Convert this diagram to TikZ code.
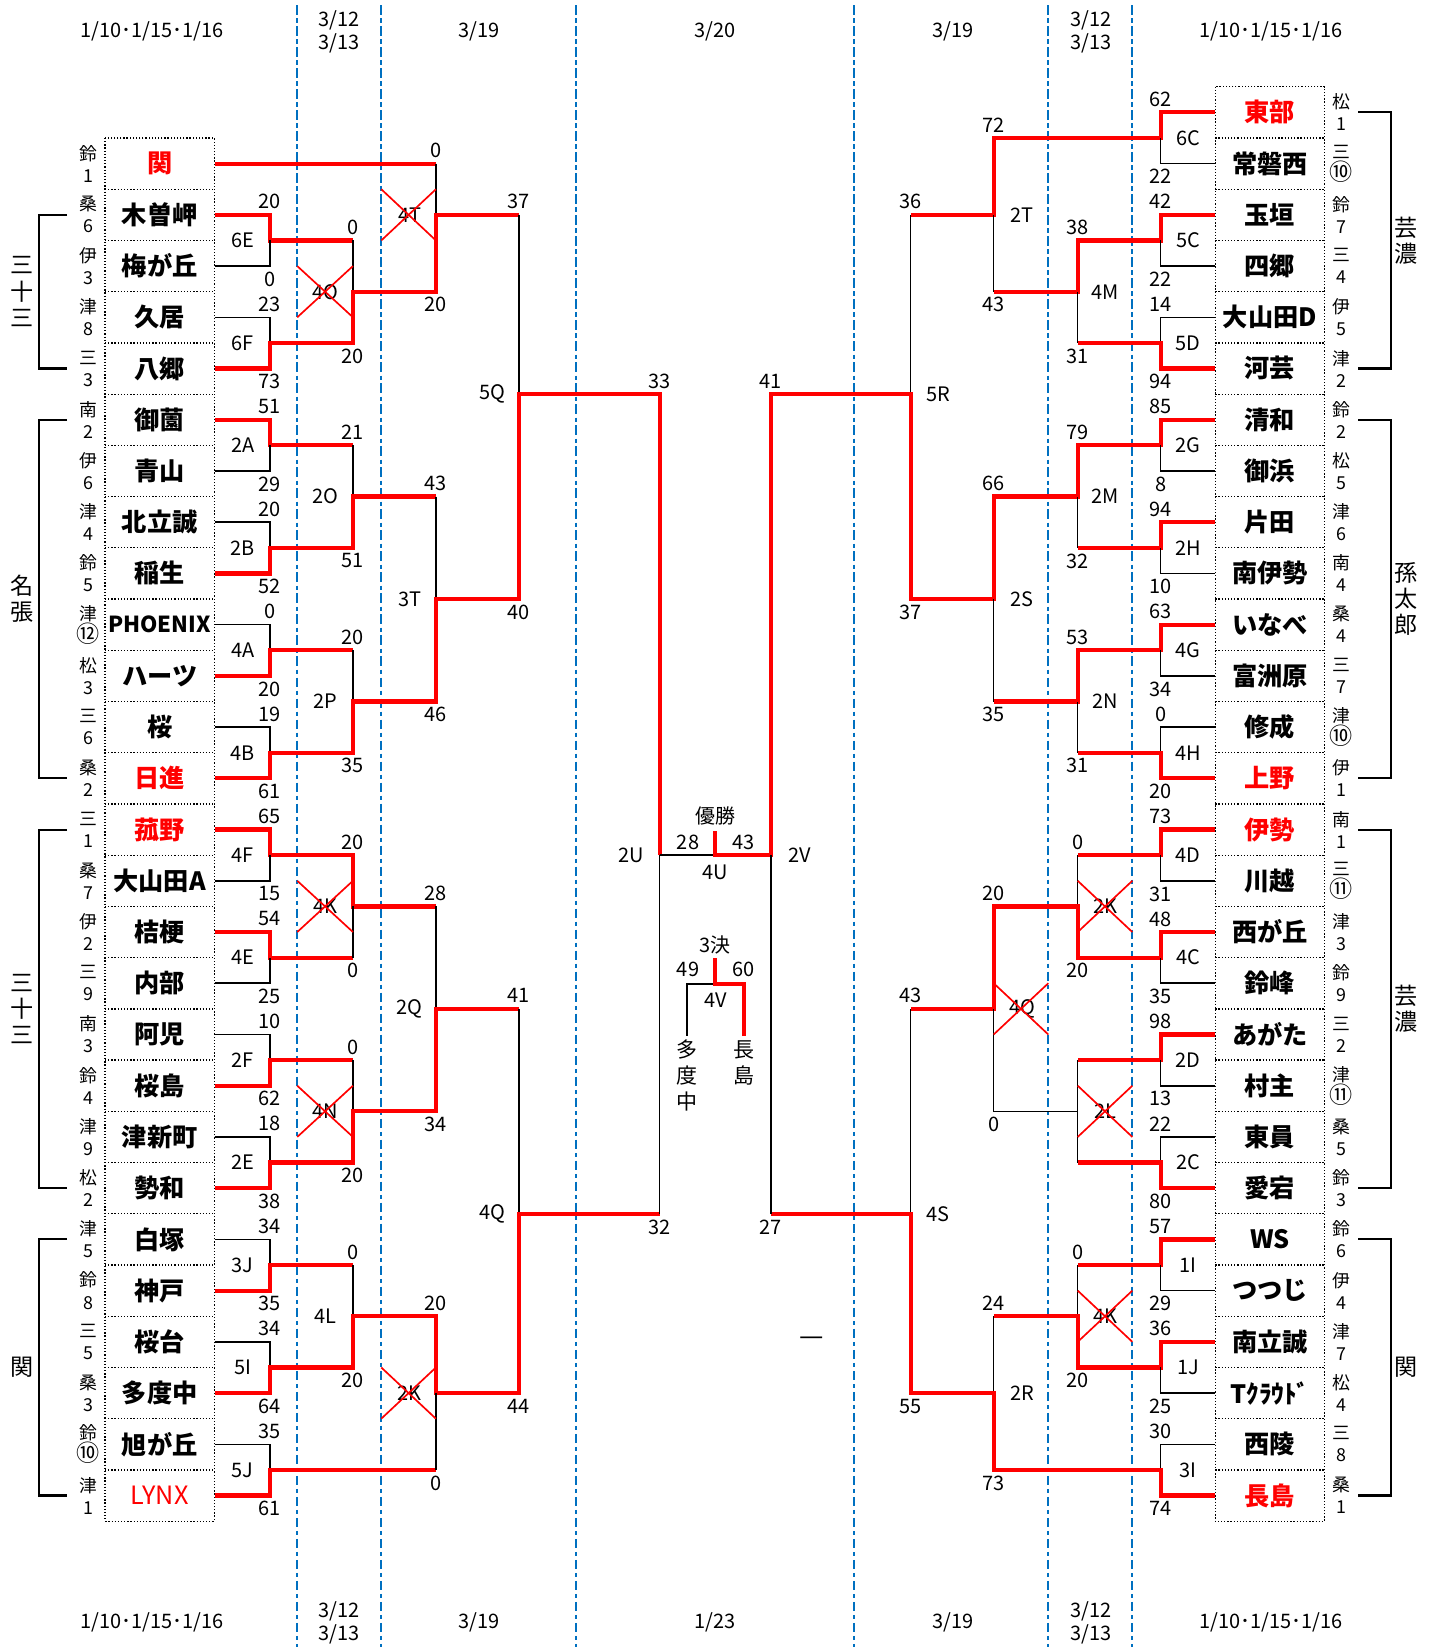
\documentclass[tikz,border=0pt]{standalone}
\usepackage{fontspec}
\setmainfont{Noto Sans CJK JP}
\newcommand\kp[2]{(#1,{107+24.385*(#2)})}
\newcommand\cn[1]{{\fontsize{11}{10.5}\selectfont #1}}
\tikzset{
 x=0.5pt, y=-0.5pt,
 win/.style={draw=red, line width=2pt, line join=miter},
 lose/.style={draw=black, line width=0.75pt},
 team/.style={minimum width=52pt, minimum height=24.38pt, inner sep=0pt, font=\fontsize{12}{13}\selectfont\bfseries},
 sc/.style={inner sep=0pt, font=\fontsize{9.5}{10}\selectfont},
 ml/.style={inner sep=0pt, font=\fontsize{9.5}{10}\selectfont},
 pref/.style={inner sep=0pt, align=center, font=\fontsize{8.5}{10.5}\selectfont},
 region/.style={inner sep=0pt, align=center, font=\fontsize{11}{12.5}\selectfont},
 datel/.style={inner sep=0pt, align=center, font=\fontsize{9.5}{11}\selectfont},
 vtext/.style={inner sep=2pt, align=center, font=\fontsize{10}{12.25}\selectfont},
 cross/.style={draw=red, line width=0.8pt},
 bdash/.style={draw={rgb,255:red,0;green,112;blue,192}, line width=1pt, dash pattern=on 4.5pt off 1.75pt on 2pt off 1.75pt},
 dotbox/.style={draw=black, line width=0.6pt, dash pattern=on 0.6pt off 0.9pt},
 brk/.style={draw=black, line width=1pt},
}
\begin{document}
\begin{tikzpicture}
\useasboundingbox (0,0) rectangle (1368,1568);
% blue dashed day separators
\foreach \x in {283,363,548,813,998,1078} \draw[bdash] (\x,5) -- (\x,1568);
% dates
\foreach \x/\y/\t [count=\i] in {145/30/{1/10･1/15･1/16}, 323/30/{3/12\\3/13}, 456/30/{3/19}, 681/30/{3/20}, 907/30/{3/19}, 1039/30/{3/12\\3/13}, 1210/30/{1/10･1/15･1/16},
 145/1545/{1/10･1/15･1/16}, 323/1545/{3/12\\3/13}, 456/1545/{3/19}, 681/1545/{1/23}, 907/1545/{3/19}, 1039/1545/{3/12\\3/13}, 1210/1545/{1/10･1/15･1/16}}
 \node[datel] (d\i) at (\x,\y) {\t};
% team boxes
\draw[dotbox] \kp{100}{1} rectangle \kp{204}{55};
\foreach \k in {3,5,...,53} \draw[dotbox] \kp{100}{\k} -- \kp{204}{\k};
\draw[dotbox] \kp{1157}{-1} rectangle \kp{1261}{55};
\foreach \k in {1,3,...,53} \draw[dotbox] \kp{1157}{\k} -- \kp{1261}{\k};
% teams left
\foreach \r/\n/\c in {1/関/red,2/木曽岬/black,3/梅が丘/black,4/久居/black,5/八郷/black,6/御薗/black,7/青山/black,8/北立誠/black,9/稲生/black,10/{\fontsize{10.5}{11}\selectfont PHOENIX}/black,11/ハーツ/black,12/桜/black,13/日進/red,14/菰野/red,15/大山田A/black,16/桔梗/black,17/内部/black,18/阿児/black,19/桜島/black,20/津新町/black,21/勢和/black,22/白塚/black,23/神戸/black,24/桜台/black,25/多度中/black,26/旭が丘/black,27/{\mdseries LYNX}/red}
 \node[team,text=\c] (tl\r) at \kp{152}{2*\r} {\n};
% teams right
\foreach \r/\n/\c in {0/東部/red,1/常磐西/black,2/玉垣/black,3/四郷/black,4/大山田D/black,5/河芸/black,6/清和/black,7/御浜/black,8/片田/black,9/南伊勢/black,10/いなべ/black,11/富洲原/black,12/修成/black,13/上野/red,14/伊勢/red,15/川越/black,16/西が丘/black,17/鈴峰/black,18/あがた/black,19/村主/black,20/東員/black,21/愛宕/black,22/WS/black,23/つつじ/black,24/南立誠/black,25/Tｸﾗｳﾄﾞ/black,26/西陵/black,27/長島/red}
 \node[team,text=\c] (tr\r) at \kp{1209}{2*\r} {\n};
% prefecture / seed labels
\foreach \r/\p/\s in {1/鈴/1,2/桑/6,3/伊/3,4/津/8,5/三/3,6/南/2,7/伊/6,8/津/4,9/鈴/5,10/津/\cn{⑫},11/松/3,12/三/6,13/桑/2,14/三/1,15/桑/7,16/伊/2,17/三/9,18/南/3,19/鈴/4,20/津/9,21/松/2,22/津/5,23/鈴/8,24/三/5,25/桑/3,26/鈴/\cn{⑩},27/津/1}
 \node[pref] (pl\r) at \kp{84}{2*\r} {\p\\\s};
\foreach \r/\p/\s in {0/松/1,1/三/\cn{⑩},2/鈴/7,3/三/4,4/伊/5,5/津/2,6/鈴/2,7/松/5,8/津/6,9/南/4,10/桑/4,11/三/7,12/津/\cn{⑩},13/伊/1,14/南/1,15/三/\cn{⑪},16/津/3,17/鈴/9,18/三/2,19/津/\cn{⑪},20/桑/5,21/鈴/3,22/鈴/6,23/伊/4,24/津/7,25/松/4,26/三/8,27/桑/1}
 \node[pref] (pr\r) at \kp{1277}{2*\r} {\p\\\s};
% region brackets
\foreach \a/\b in {4/10,12/26,28/42,44/54} \draw[brk] \kp{64}{\a} -- \kp{37}{\a} -- \kp{37}{\b} -- \kp{64}{\b};
\foreach \a/\b in {0/10,12/26,28/42,44/54} \draw[brk] \kp{1293}{\a} -- \kp{1324}{\a} -- \kp{1324}{\b} -- \kp{1293}{\b};
\foreach \x/\k/\t [count=\i] in {21/7/{三\\十\\三}, 21/19/{名\\張}, 21/35/{三\\十\\三}, 21/49/関, 1339/5/{芸\\濃}, 1339/19/{孫\\太\\郎}, 1339/35/{芸\\濃}, 1339/49/関}
 \node[region] (rg\i) at \kp{\x}{\k} {\t};
% ---------- left bracket lines ----------
\draw[win] (tl1.east) -- \kp{415}{2};
\draw[lose] \kp{415}{2} -- \kp{415}{4};
\draw[win] (tl2.east) -- \kp{257}{4} -- \kp{257}{5} -- \kp{336}{5};
\draw[lose] \kp{336}{5} -- \kp{336}{7};
\draw[lose] (tl3.east) -- \kp{257}{6} -- \kp{257}{5};
\draw[lose] (tl4.east) -- \kp{257}{8} -- \kp{257}{9};
\draw[win] (tl5.east) -- \kp{257}{10} -- \kp{257}{9} -- \kp{336}{9} -- \kp{336}{7} -- \kp{415}{7} -- \kp{415}{4} -- \kp{494}{4};
\draw[lose] \kp{494}{4} -- \kp{494}{11};
\draw[win] (tl6.east) -- \kp{257}{12} -- \kp{257}{13} -- \kp{336}{13};
\draw[lose] \kp{336}{13} -- \kp{336}{15};
\draw[lose] (tl7.east) -- \kp{257}{14} -- \kp{257}{13};
\draw[lose] (tl8.east) -- \kp{257}{16} -- \kp{257}{17};
\draw[win] (tl9.east) -- \kp{257}{18} -- \kp{257}{17} -- \kp{336}{17} -- \kp{336}{15} -- \kp{415}{15};
\draw[lose] \kp{415}{15} -- \kp{415}{19};
\draw[lose] (tl10.east) -- \kp{257}{20} -- \kp{257}{21};
\draw[win] (tl11.east) -- \kp{257}{22} -- \kp{257}{21} -- \kp{336}{21};
\draw[lose] \kp{336}{21} -- \kp{336}{23};
\draw[lose] (tl12.east) -- \kp{257}{24} -- \kp{257}{25};
\draw[win] (tl13.east) -- \kp{257}{26} -- \kp{257}{25} -- \kp{336}{25} -- \kp{336}{23} -- \kp{415}{23} -- \kp{415}{19} -- \kp{494}{19} -- \kp{494}{11} -- \kp{628}{11} -- \kp{628}{29};
\draw[lose] \kp{628}{29} -- \kp{681}{29};
\draw[win] (tl14.east) -- \kp{257}{28} -- \kp{257}{29} -- \kp{336}{29} -- \kp{336}{31} -- \kp{415}{31};
\draw[lose] \kp{415}{31} -- \kp{415}{35};
\draw[lose] (tl15.east) -- \kp{257}{30} -- \kp{257}{29};
\draw[win] (tl16.east) -- \kp{257}{32} -- \kp{257}{33} -- \kp{336}{33};
\draw[lose] \kp{336}{33} -- \kp{336}{31};
\draw[lose] (tl17.east) -- \kp{257}{34} -- \kp{257}{33};
\draw[lose] (tl18.east) -- \kp{257}{36} -- \kp{257}{37};
\draw[win] (tl19.east) -- \kp{257}{38} -- \kp{257}{37} -- \kp{336}{37};
\draw[lose] \kp{336}{37} -- \kp{336}{39};
\draw[lose] (tl20.east) -- \kp{257}{40} -- \kp{257}{41};
\draw[win] (tl21.east) -- \kp{257}{42} -- \kp{257}{41} -- \kp{336}{41} -- \kp{336}{39} -- \kp{415}{39} -- \kp{415}{35} -- \kp{494}{35};
\draw[lose] \kp{494}{35} -- \kp{494}{43};
\draw[lose] (tl22.east) -- \kp{257}{44} -- \kp{257}{45};
\draw[win] (tl23.east) -- \kp{257}{46} -- \kp{257}{45} -- \kp{336}{45};
\draw[lose] \kp{336}{45} -- \kp{336}{47};
\draw[lose] (tl24.east) -- \kp{257}{48} -- \kp{257}{49};
\draw[win] (tl25.east) -- \kp{257}{50} -- \kp{257}{49} -- \kp{336}{49} -- \kp{336}{47} -- \kp{415}{47} -- \kp{415}{50} -- \kp{494}{50} -- \kp{494}{43} -- \kp{628}{43};
\draw[lose] \kp{628}{43} -- \kp{628}{29};
\draw[lose] (tl26.east) -- \kp{257}{52} -- \kp{257}{53};
\draw[win] (tl27.east) -- \kp{257}{54} -- \kp{257}{53} -- \kp{415}{53};
\draw[lose] \kp{415}{53} -- \kp{415}{50};
% ---------- right bracket lines ----------
\draw[win] (tr0.west) -- \kp{1105}{0} -- \kp{1105}{1} -- \kp{946}{1} -- \kp{946}{4} -- \kp{867}{4};
\draw[lose] \kp{867}{4} -- \kp{867}{11};
\draw[lose] (tr1.west) -- \kp{1105}{2} -- \kp{1105}{1};
\draw[win] (tr2.west) -- \kp{1105}{4} -- \kp{1105}{5} -- \kp{1026}{5} -- \kp{1026}{7} -- \kp{946}{7};
\draw[lose] \kp{946}{7} -- \kp{946}{4};
\draw[lose] (tr3.west) -- \kp{1105}{6} -- \kp{1105}{5};
\draw[lose] (tr4.west) -- \kp{1105}{8} -- \kp{1105}{9};
\draw[win] (tr5.west) -- \kp{1105}{10} -- \kp{1105}{9} -- \kp{1026}{9};
\draw[lose] \kp{1026}{9} -- \kp{1026}{7};
\draw[win] (tr6.west) -- \kp{1105}{12} -- \kp{1105}{13} -- \kp{1026}{13} -- \kp{1026}{15} -- \kp{946}{15} -- \kp{946}{19} -- \kp{867}{19} -- \kp{867}{11} -- \kp{734}{11} -- \kp{734}{29} -- \kp{681}{29} -- (681,791);
\draw[lose] (tr7.west) -- \kp{1105}{14} -- \kp{1105}{13};
\draw[win] (tr8.west) -- \kp{1105}{16} -- \kp{1105}{17} -- \kp{1026}{17};
\draw[lose] \kp{1026}{17} -- \kp{1026}{15};
\draw[lose] (tr9.west) -- \kp{1105}{18} -- \kp{1105}{17};
\draw[win] (tr10.west) -- \kp{1105}{20} -- \kp{1105}{21} -- \kp{1026}{21} -- \kp{1026}{23} -- \kp{946}{23};
\draw[lose] \kp{946}{23} -- \kp{946}{19};
\draw[lose] (tr11.west) -- \kp{1105}{22} -- \kp{1105}{21};
\draw[lose] (tr12.west) -- \kp{1105}{24} -- \kp{1105}{25};
\draw[win] (tr13.west) -- \kp{1105}{26} -- \kp{1105}{25} -- \kp{1026}{25};
\draw[lose] \kp{1026}{25} -- \kp{1026}{23};
\draw[win] (tr14.west) -- \kp{1105}{28} -- \kp{1105}{29} -- \kp{1026}{29};
\draw[lose] \kp{1026}{29} -- \kp{1026}{31};
\draw[lose] (tr15.west) -- \kp{1105}{30} -- \kp{1105}{29};
\draw[win] (tr16.west) -- \kp{1105}{32} -- \kp{1105}{33} -- \kp{1026}{33} -- \kp{1026}{31} -- \kp{946}{31} -- \kp{946}{35} -- \kp{867}{35};
\draw[lose] \kp{867}{35} -- \kp{867}{43};
\draw[lose] (tr17.west) -- \kp{1105}{34} -- \kp{1105}{33};
\draw[win] (tr18.west) -- \kp{1105}{36} -- \kp{1105}{37} -- \kp{1026}{37};
\draw[lose] (tr19.west) -- \kp{1105}{38} -- \kp{1105}{37};
\draw[lose] (tr20.west) -- \kp{1105}{40} -- \kp{1105}{41};
\draw[win] (tr21.west) -- \kp{1105}{42} -- \kp{1105}{41} -- \kp{1026}{41};
\draw[lose] \kp{1026}{37} -- \kp{1026}{41};
\draw[lose] \kp{1026}{39} -- \kp{946}{39} -- \kp{946}{35};
\draw[win] (tr22.west) -- \kp{1105}{44} -- \kp{1105}{45} -- \kp{1026}{45};
\draw[lose] \kp{1026}{45} -- \kp{1026}{47};
\draw[lose] (tr23.west) -- \kp{1105}{46} -- \kp{1105}{45};
\draw[win] (tr24.west) -- \kp{1105}{48} -- \kp{1105}{49} -- \kp{1026}{49} -- \kp{1026}{47} -- \kp{946}{47};
\draw[lose] \kp{946}{47} -- \kp{946}{50};
\draw[lose] (tr25.west) -- \kp{1105}{50} -- \kp{1105}{49};
\draw[lose] (tr26.west) -- \kp{1105}{52} -- \kp{1105}{53};
\draw[win] (tr27.west) -- \kp{1105}{54} -- \kp{1105}{53} -- \kp{946}{53} -- \kp{946}{50} -- \kp{867}{50} -- \kp{867}{43} -- \kp{734}{43};
\draw[lose] \kp{734}{43} -- \kp{734}{29};
% ---------- center: final and 3rd place ----------
\node[ml] (win) at (681,777) {優勝};
\node[ml] (m4U) at (681,830) {4U};
\node[ml] (third) at (681,900) {3決};
\node[ml] (m4V) at (681,952) {4V};
\node[sc] (s49) at (655,923) {49};
\node[sc] (s60) at (708,923) {60};
\node[vtext] (ctd) at (654,1024) {多\\度\\中};
\node[vtext] (cng) at (708,1012) {長\\島};
\draw[lose] (ctd.north) -- (654,937) -- (681,937);
\draw[win] (cng.north) -- (708,937) -- (681,937) -- (681,912);
\node[inner sep=0pt, font=\fontsize{13}{13}\selectfont] (dash) at (773,1277) {—};
% ---------- scores above lines ----------
\foreach \x/\k/\t [count=\i] in {257/4/20,257/8/23,257/12/51,257/16/20,257/20/0,257/24/19,257/28/65,257/32/54,257/36/10,257/40/18,257/44/34,257/48/34,257/52/35,
 336/5/0,336/13/21,336/21/20,336/29/20,336/37/0,336/45/0,
 415/2/0,415/15/43,415/31/28,415/47/20, 494/4/37,494/35/41, 628/11/33, 734/11/41, 655/29/28, 708/29/43,
 1105/0/62,1105/4/42,1105/8/14,1105/12/85,1105/16/94,1105/20/63,1105/24/0,1105/28/73,1105/32/48,1105/36/98,1105/40/22,1105/44/57,1105/48/36,1105/52/30,
 1026/5/38,1026/13/79,1026/21/53,1026/29/0,1026/45/0,
 946/1/72,946/15/66,946/31/20,946/47/24, 867/4/36,867/35/43}
 \node[sc] (sa\i) at (\x,{107+24.385*\k-12.5}) {\t};
% ---------- scores below lines ----------
\foreach \x/\k/\t [count=\i] in {257/6/0,257/10/73,257/14/29,257/18/52,257/22/20,257/26/61,257/30/15,257/34/25,257/38/62,257/42/38,257/46/35,257/50/64,257/54/61,
 336/9/20,336/17/51,336/25/35,336/33/0,336/41/20,336/49/20,
 415/7/20,415/23/46,415/39/34,415/53/0, 494/19/40,494/50/44, 628/43/32, 734/43/27,
 1105/2/22,1105/6/22,1105/10/94,1105/14/8,1105/18/10,1105/22/34,1105/26/20,1105/30/31,1105/34/35,1105/38/13,1105/42/80,1105/46/29,1105/50/25,1105/54/74,
 1026/9/31,1026/17/32,1026/25/31,1026/33/20,1026/49/20,
 946/7/43,946/23/35,946/39/0,946/53/73, 867/19/37,867/50/55}
 \node[sc] (sb\i) at (\x,{107+24.385*\k+12.5}) {\t};
% ---------- match labels ----------
\foreach \x/\k/\t [count=\i] in {231/5/6E,231/9/6F,231/13/2A,231/17/2B,231/21/4A,231/25/4B,231/29/4F,231/33/4E,231/37/2F,231/41/2E,231/45/3J,231/49/5I,231/53/5J,
 310/7/4O,310/15/2O,310/23/2P,310/31/4K,310/39/4N,310/47/4L,
 390/4/4T,390/19/3T,390/35/2Q,390/50/2K, 469/11/5Q,469/43/4Q, 601/29/2U, 761/29/2V,
 1131/1/6C,1131/5/5C,1131/9/5D,1131/13/2G,1131/17/2H,1131/21/4G,1131/25/4H,1131/29/4D,1131/33/4C,1131/37/2D,1131/41/2C,1131/45/1I,1131/49/1J,1131/53/3I,
 1052/7/4M,1052/15/2M,1052/23/2N,1052/31/2K,1052/39/2L,1052/47/4K,
 973/4/2T,973/19/2S,973/35/4Q,973/50/2R, 893/11/5R,893/43/4S}
 \node[ml] (ml\i) at \kp{\x}{\k} {\t};
% ---------- cancelled matches ----------
\foreach \a/\b/\c/\d in {283/336/6/8, 363/415/3/5, 283/336/30/32, 283/336/38/40, 363/415/49/51, 1026/1078/30/32, 946/998/34/36, 1026/1078/38/40, 1026/1078/46/48}
 {\draw[cross] \kp{\a}{\c} -- \kp{\b}{\d}; \draw[cross] \kp{\a}{\d} -- \kp{\b}{\c};}
\end{tikzpicture}
\end{document}
